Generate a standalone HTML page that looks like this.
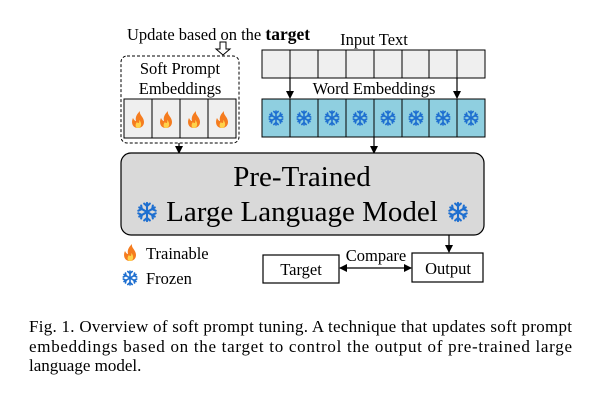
<!DOCTYPE html>
<html><head><meta charset="utf-8"><style>
html,body{margin:0;padding:0;background:#fff;}
svg{display:block;}
text{font-family:"Liberation Serif",serif;fill:#000;}
</style></head><body>
<svg width="600" height="401" viewBox="0 0 600 401" xmlns="http://www.w3.org/2000/svg">
<defs>
<marker id="ah" markerWidth="8" markerHeight="8" refX="7" refY="4" orient="auto-start-reverse" markerUnits="userSpaceOnUse">
<path d="M0,0 L8,4 L0,8 Z" fill="#000"/></marker>
<g id="flake" stroke="#1e6fd0" stroke-width="1.6" stroke-linecap="round" fill="none">
<line x1="0" y1="-7" x2="0" y2="7"/><line x1="-6" y1="-3.5" x2="6" y2="3.5"/><line x1="-6" y1="3.5" x2="6" y2="-3.5"/>
<path d="M-2.2,-6.5 L0,-4.5 L2.2,-6.5 M-2.2,6.5 L0,4.5 L2.2,6.5"/>
<path d="M-6.7,-1 L-4,-2.3 L-4.5,-5 M6.7,1 L4,2.3 L4.5,5 M-6.7,1 L-4,2.3 L-4.5,5 M6.7,-1 L4,-2.3 L4.5,-5"/>
</g>
<g id="fire">
<path d="M0,8 C-6,8 -7,2 -5,-2 C-4,0 -3,1 -2,1 C-3,-3 -1,-6 2,-9 C1,-5 6,-3 6,2 C6,6 3,8 0,8 Z" fill="#f57c1f"/>
<path d="M0,8 C-3,8 -3,4 -1,2 C0,4 2,3 1,0 C4,2 4,8 0,8 Z" fill="#ffd24a"/>
</g>
</defs>

<text x="127" y="40" font-size="16.5">Update based on the <tspan font-weight="bold" font-size="17.5">target</tspan></text>
<path d="M220,42 L226,42 L226,49 L230,49 L223,55 L216,49 L220,49 Z" fill="#fff" stroke="#000" stroke-width="1"/>

<rect x="121" y="56" width="118" height="87" rx="6" fill="none" stroke="#000" stroke-width="1" stroke-dasharray="3,2"/>
<text x="180" y="74" font-size="16.5" text-anchor="middle">Soft Prompt</text>
<text x="180" y="94" font-size="16.5" text-anchor="middle">Embeddings</text>
<g stroke="#000" stroke-width="1" fill="#efefef">
<rect x="124" y="99" width="28" height="39"/><rect x="152" y="99" width="28" height="39"/>
<rect x="180" y="99" width="28" height="39"/><rect x="208" y="99" width="28" height="39"/>
</g>
<use href="#fire" x="138" y="120"/><use href="#fire" x="166" y="120"/><use href="#fire" x="194" y="120"/><use href="#fire" x="222" y="120"/>

<text x="374" y="45" font-size="16.5" text-anchor="middle">Input Text</text>
<g stroke="#000" stroke-width="1" fill="#efefef">
<rect x="262" y="50" width="28" height="28"/><rect x="290" y="50" width="28" height="28"/><rect x="318" y="50" width="28" height="28"/><rect x="346" y="50" width="28" height="28"/>
<rect x="374" y="50" width="28" height="28"/><rect x="402" y="50" width="27" height="28"/><rect x="429" y="50" width="28" height="28"/><rect x="457" y="50" width="28" height="28"/>
</g>
<text x="374" y="94" font-size="16.5" text-anchor="middle">Word Embeddings</text>
<g stroke="#000" stroke-width="1" fill="#8fcfe0">
<rect x="262" y="99" width="28" height="38"/><rect x="290" y="99" width="28" height="38"/><rect x="318" y="99" width="28" height="38"/><rect x="346" y="99" width="28" height="38"/>
<rect x="374" y="99" width="28" height="38"/><rect x="402" y="99" width="27" height="38"/><rect x="429" y="99" width="28" height="38"/><rect x="457" y="99" width="28" height="38"/>
</g>
<use href="#flake" x="276" y="118"/><use href="#flake" x="304" y="118"/><use href="#flake" x="332" y="118"/><use href="#flake" x="360" y="118"/>
<use href="#flake" x="388" y="118"/><use href="#flake" x="416" y="118"/><use href="#flake" x="443" y="118"/><use href="#flake" x="471" y="118"/>

<g stroke="#000" stroke-width="1.2" fill="none">
<line x1="290" y1="78" x2="290" y2="98" marker-end="url(#ah)"/>
<line x1="457" y1="78" x2="457" y2="98" marker-end="url(#ah)"/>
<line x1="179" y1="143" x2="179" y2="153" marker-end="url(#ah)"/>
<line x1="374" y1="137" x2="374" y2="153" marker-end="url(#ah)"/>
<line x1="449" y1="235" x2="449" y2="252" marker-end="url(#ah)"/>
<line x1="340" y1="268" x2="411" y2="268" marker-start="url(#ah)" marker-end="url(#ah)"/>
</g>

<rect x="121" y="153" width="363" height="82" rx="10" fill="#d9d9d9" stroke="#000" stroke-width="1.2"/>
<text x="302" y="186" font-size="29" text-anchor="middle">Pre-Trained</text>
<text x="302" y="221" font-size="29" text-anchor="middle">Large Language Model</text>
<use href="#flake" transform="translate(147,212) scale(1.3)"/>
<use href="#flake" transform="translate(458,212) scale(1.3)"/>

<use href="#fire" x="130" y="253"/>
<text x="146" y="259" font-size="16.5">Trainable</text>
<use href="#flake" x="130" y="278"/>
<text x="146" y="284" font-size="16.5">Frozen</text>

<rect x="263" y="255" width="76" height="28" fill="#fff" stroke="#000" stroke-width="1.2"/>
<text x="301" y="275" font-size="16.5" text-anchor="middle">Target</text>
<text x="376" y="261" font-size="16.5" text-anchor="middle">Compare</text>
<rect x="412" y="253" width="71" height="29" fill="#fff" stroke="#000" stroke-width="1.2"/>
<text x="448" y="274" font-size="16.5" text-anchor="middle">Output</text>

<text x="29" y="332" font-size="17" textLength="543" lengthAdjust="spacing">Fig. 1.  Overview of soft prompt tuning. A technique that updates soft prompt</text>
<text x="29" y="352" font-size="17" textLength="543" lengthAdjust="spacing">embeddings based on the target to control the output of pre-trained large</text>
<text x="29" y="371" font-size="17">language model.</text>
</svg>
</body></html>
